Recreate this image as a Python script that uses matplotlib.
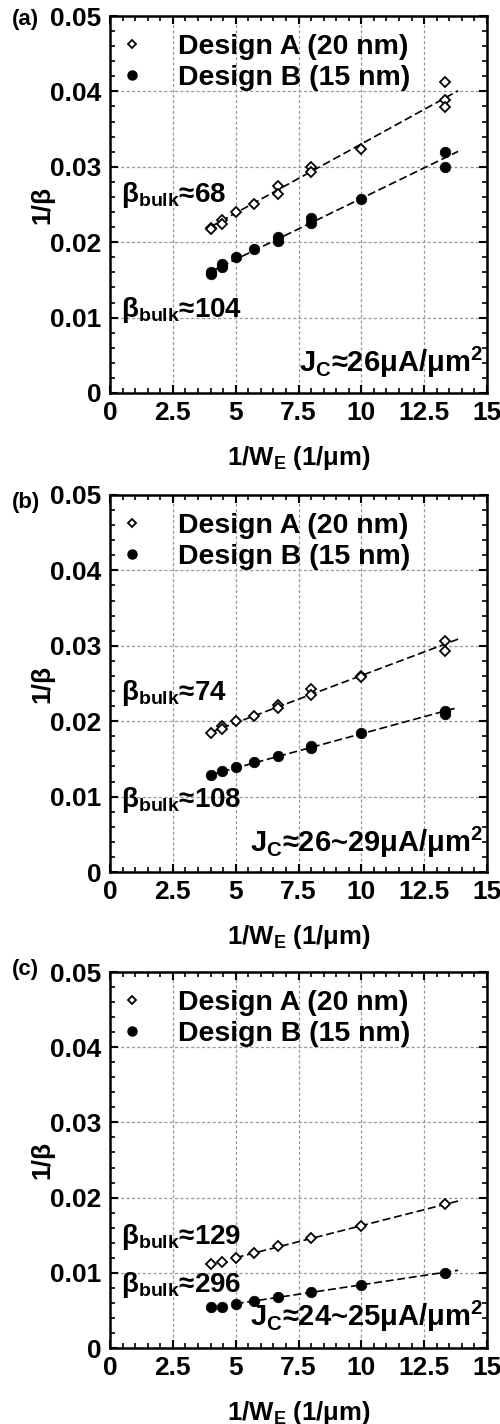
import numpy as np
import matplotlib
matplotlib.use("Agg")
import matplotlib.pyplot as plt
from matplotlib.lines import Line2D

plt.rcParams['font.family'] = ['Liberation Sans', 'DejaVu Sans']
plt.rcParams['font.weight'] = 'bold'
plt.rcParams['axes.labelweight'] = 'bold'
plt.rcParams['mathtext.fontset'] = 'custom'
plt.rcParams['mathtext.rm'] = 'Liberation Sans:bold'
plt.rcParams['mathtext.it'] = 'Liberation Sans:bold'
plt.rcParams['mathtext.bf'] = 'Liberation Sans:bold'
plt.rcParams['mathtext.sf'] = 'Liberation Sans:bold'
plt.rcParams['mathtext.default'] = 'rm'

# ---------------- data ----------------
# emitter widths (um); x = 1/W_E
we_a_A = [0.25, 0.25, 0.225, 0.225, 0.2, 0.175, 0.15, 0.15, 0.125, 0.125, 0.1, 0.075, 0.075, 0.075]
inv_beta_a_A = [0.0219, 0.0217, 0.0229, 0.0224, 0.0240, 0.0251, 0.0274, 0.0264, 0.0300, 0.0293, 0.0323, 0.0412, 0.0388, 0.0379]
we_a_B = [0.25, 0.25, 0.225, 0.225, 0.2, 0.175, 0.15, 0.15, 0.125, 0.125, 0.1, 0.075, 0.075]
inv_beta_a_B = [0.0160, 0.0158, 0.0171, 0.0167, 0.0180, 0.0191, 0.0207, 0.0202, 0.0232, 0.0226, 0.0257, 0.0319, 0.0300]

we_b_A = [0.25, 0.225, 0.225, 0.2, 0.175, 0.15, 0.15, 0.125, 0.125, 0.1, 0.1, 0.075, 0.075]
inv_beta_b_A = [0.0185, 0.0193, 0.0190, 0.0200, 0.0207, 0.0221, 0.0218, 0.0243, 0.0235, 0.0260, 0.0259, 0.0307, 0.0293]
we_b_B = [0.25, 0.225, 0.2, 0.175, 0.15, 0.125, 0.125, 0.1, 0.075, 0.075]
inv_beta_b_B = [0.0129, 0.0134, 0.0139, 0.0146, 0.0154, 0.0167, 0.0165, 0.0185, 0.0213, 0.0210]

we_c_A = [0.25, 0.225, 0.2, 0.175, 0.15, 0.125, 0.1, 0.075]
inv_beta_c_A = [0.0112, 0.0115, 0.0120, 0.0126, 0.0135, 0.0146, 0.0162, 0.0191]
we_c_B = [0.25, 0.225, 0.2, 0.175, 0.15, 0.125, 0.1, 0.075]
inv_beta_c_B = [0.0054, 0.0055, 0.0059, 0.0063, 0.0068, 0.0074, 0.0084, 0.0100]

beta_bulk_A = [68, 74, 129]
beta_bulk_B = [104, 108, 296]
jc_labels = ['J$_{C}$≈26μA/μm$^{2}$', 'J$_{C}$≈26~29μA/μm$^{2}$', 'J$_{C}$≈24~25μA/μm$^{2}$']
panel_labels = ['(a)', '(b)', '(c)']
legend_labels = ['Design A (20 nm)', 'Design B (15 nm)']

xticks = [0, 2.5, 5, 7.5, 10, 12.5, 15]
xticklabels = ['0', '2.5', '5', '7.5', '10', '12.5', '15']
yticks = [0, 0.01, 0.02, 0.03, 0.04, 0.05]
yticklabels = ['0', '0.01', '0.02', '0.03', '0.04', '0.05']

series = [
    (we_a_A, inv_beta_a_A, we_a_B, inv_beta_a_B),
    (we_b_A, inv_beta_b_A, we_b_B, inv_beta_b_B),
    (we_c_A, inv_beta_c_A, we_c_B, inv_beta_c_B),
]

# ---------------- layout ----------------
W, H = 500, 1424
fig = plt.figure(figsize=(W / 100, H / 100), dpi=100)
axes_px = [(110, 487, 16, 393), (110, 487, 495, 872), (110, 487, 972, 1348)]
plabel_top = [9, 492, 959]
fit_start = [(4.0, 4.0), (4.0, 4.0), (5.0, 5.0)]
beta_A_y = [0.0262, 0.0238, 0.0147]
beta_B_y = [0.0110, 0.0096, 0.0084]
jc_y = [0.0041, 0.0039, 0.0042]
x_end = 13.85


def fixed_intercept_slope(x, y, b):
    x = np.asarray(x)
    y = np.asarray(y)
    return np.sum(x * (y - b)) / np.sum(x * x)


for i, (l, r, t, b) in enumerate(axes_px):
    ax = fig.add_axes([l / W, 1 - b / H, (r - l) / W, (b - t) / H])
    weA, yA, weB, yB = series[i]
    xA = 1.0 / np.asarray(weA)
    xB = 1.0 / np.asarray(weB)

    # fit lines (intercept from bulk beta)
    for xs, ys, bb, xs0 in ((xA, yA, beta_bulk_A[i], fit_start[i][0]),
                            (xB, yB, beta_bulk_B[i], fit_start[i][1])):
        ys = np.asarray(ys)
        m = xs >= xs0 - 1e-9
        b0 = 1.0 / bb
        s = fixed_intercept_slope(xs[m], ys[m], b0)
        xx = np.array([xs0, x_end])
        ax.plot(xx, b0 + s * xx, color='black', lw=1.2, ls=(0, (4.8, 2.2)), zorder=3)

    ax.plot(xA, yA, ls='none', marker='D', ms=5.0, mfc='white', mec='black', mew=1.3, zorder=4)
    ax.plot(xB, yB, ls='none', marker='o', ms=7.6, mfc='black', mec='black', mew=0.5, zorder=4)

    ax.set_xlim(0, 15)
    ax.set_ylim(0, 0.05)
    ax.set_xticks(xticks)
    ax.set_xticklabels(xticklabels)
    ax.set_yticks(yticks)
    ax.set_yticklabels(yticklabels)
    ax.set_xticks(np.arange(0, 15.01, 0.5), minor=True)
    ax.set_yticks(np.arange(0, 0.0501, 0.002), minor=True)
    ax.tick_params(which='both', direction='in', top=True, right=True, labelsize=19)
    ax.tick_params(which='major', length=6, width=1.5, pad=6)
    ax.tick_params(which='minor', length=3.5, width=1.2)
    for sp in ax.spines.values():
        sp.set_linewidth(1.8)
    ax.grid(True, which='major', color='#9a9a9a', ls=(0, (2.5, 1.8)), lw=0.9, zorder=0)

    ax.set_xlabel('1/W$_{E}$ (1/μm)', fontsize=18.5)
    ax.set_ylabel('1/β', fontsize=19)
    ax.xaxis.set_label_coords(0.5, -0.135)
    ax.yaxis.set_label_coords(-0.148, 0.5)

    ax.text(0.45, beta_A_y[i], 'β$_{bulk}$≈%d' % beta_bulk_A[i], fontsize=20, ha='left', va='center', zorder=5)
    ax.text(0.45, beta_B_y[i], 'β$_{bulk}$≈%d' % beta_bulk_B[i], fontsize=20, ha='left', va='center', zorder=5)
    ax.text(14.85, jc_y[i], jc_labels[i], fontsize=21, ha='right', va='center', zorder=5)

    handles = [Line2D([], [], ls='none', marker='D', ms=3.8, mfc='white', mec='black', mew=1.3),
               Line2D([], [], ls='none', marker='o', ms=6.5, mfc='black', mec='black')]
    ax.legend(handles, legend_labels, loc='upper left', bbox_to_anchor=(0.025, 0.952),
              frameon=False, fontsize=20.5, handlelength=0.9, handletextpad=1.15,
              labelspacing=0.17, borderpad=0, borderaxespad=0)

    fig.text(12 / W, 1 - plabel_top[i] / H, panel_labels[i], fontsize=16, ha='left', va='top')

fig.savefig('out.png', dpi=100)
